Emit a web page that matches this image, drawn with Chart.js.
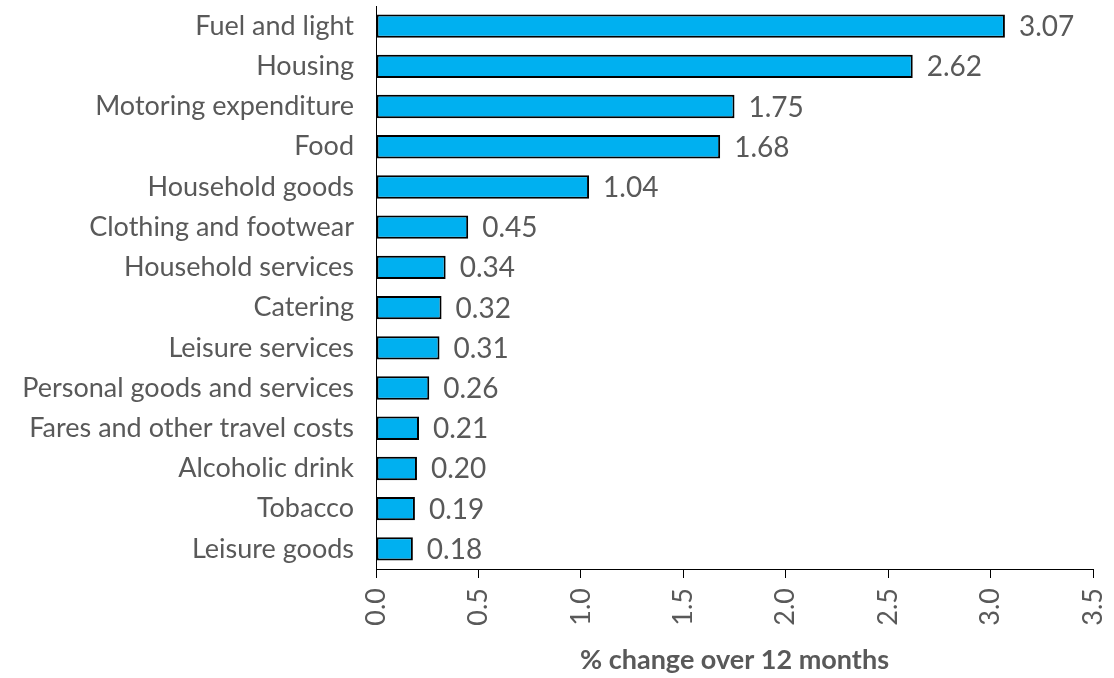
<!DOCTYPE html>
<html>
<head>
<meta charset="utf-8">
<script src="https://cdn.jsdelivr.net/npm/chart.js@4/dist/chart.umd.min.js"></script>
<style>
  html,body{margin:0;padding:0;background:#fff;}
  #wrap{width:1114px;height:678px;}
</style>
</head>
<body>
<div id="wrap"><canvas id="c" width="1114" height="678"></canvas></div>
<script>
const categories = [
  'Fuel and light','Housing','Motoring expenditure','Food','Household goods',
  'Clothing and footwear','Household services','Catering','Leisure services',
  'Personal goods and services','Fares and other travel costs','Alcoholic drink',
  'Tobacco','Leisure goods'
];
const changeValues = [3.07,2.62,1.75,1.68,1.04,0.45,0.34,0.32,0.31,0.26,0.21,0.20,0.19,0.18];
const xTicks = [0,0.5,1,1.5,2,2.5,3,3.5];
const axisTitle = '% change over 12 months';

// draw the value next to each bar
const valueLabels = {
  id:'valueLabels',
  afterDatasetsDraw(chart){
    const ctx = chart.ctx;
    const meta = chart.getDatasetMeta(0);
    ctx.save();
    ctx.font = '28px Lato';
    ctx.fillStyle = '#595959';
    ctx.textBaseline = 'middle';
    ctx.textAlign = 'left';
    meta.data.forEach((bar,i)=>{
      ctx.fillText(changeValues[i].toFixed(2), bar.x + 14, bar.y + 1);
    });
    ctx.restore();
  }
};

const ctx = document.getElementById('c').getContext('2d');
new Chart(ctx,{
  type:'bar',
  data:{
    labels:categories,
    datasets:[{
      data:changeValues,
      backgroundColor:'#00B0F0',
      borderColor:'#000',
      borderWidth:2,
      borderSkipped:false,
      barPercentage:0.58,
      categoryPercentage:1
    }]
  },
  options:{
    indexAxis:'y',
    responsive:false,
    animation:false,
    layout:{padding:{top:6,right:21,left:0,bottom:2}},
    plugins:{legend:{display:false},tooltip:{enabled:false}},
    scales:{
      x:{
        min:0,max:3.5,
        afterBuildTicks(axis){ axis.ticks = xTicks.map(v=>({value:v})); },
        grid:{drawOnChartArea:false,drawTicks:true,tickLength:9,color:'#000'},
        border:{color:'#000',width:1},
        ticks:{
          minRotation:90,maxRotation:90,
          font:{family:'Lato',size:27},color:'#595959',
          padding:10,
          callback:(v)=>Number(v).toFixed(1)
        },
        title:{display:true,text:axisTitle,font:{family:'Lato',size:27,weight:'bold'},color:'#595959',padding:{top:10,bottom:0}},
        afterFit(axis){
          axis.height = 678 - 569 - 2;
          axis.paddingLeft = 0; axis.paddingRight = 0;
        }
      },
      y:{
        grid:{drawOnChartArea:false,drawTicks:false},
        border:{color:'#000',width:1},
        ticks:{font:{family:'Lato',size:27},color:'#595959',padding:22},
        afterFit(axis){
          axis.width = 376;
          axis.paddingTop = 0; axis.paddingBottom = 0;
        }
      }
    }
  },
  plugins:[valueLabels]
});
</script>
</body>
</html>
